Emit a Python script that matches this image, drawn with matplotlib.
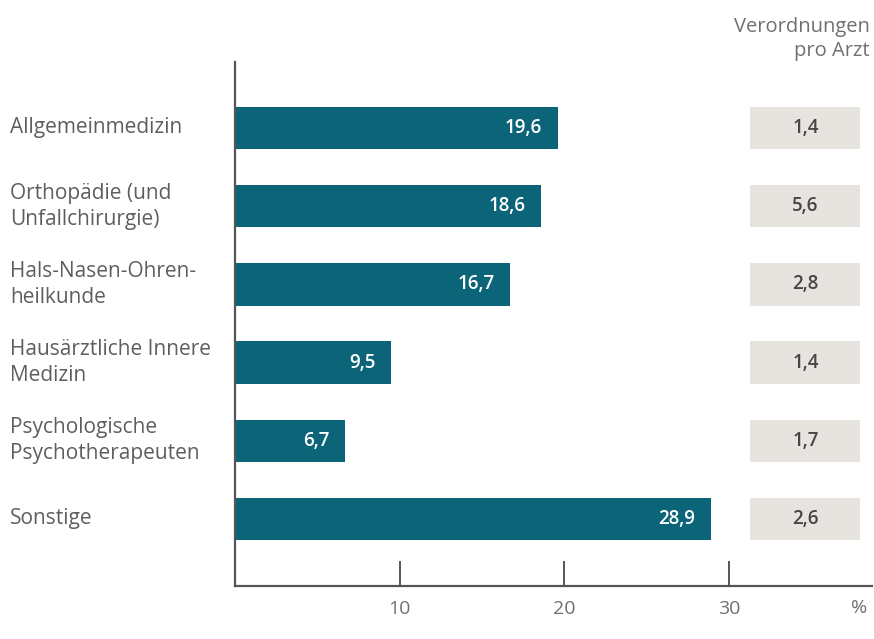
import matplotlib
matplotlib.use("Agg")
import matplotlib.pyplot as plt
from matplotlib.patches import Rectangle

categories = ["Allgemeinmedizin", "Orthopädie (und\nUnfallchirurgie)", "Hals-Nasen-Ohren-\nheilkunde",
              "Hausärztliche Innere\nMedizin", "Psychologische\nPsychotherapeuten", "Sonstige"]
shares = [19.6, 18.6, 16.7, 9.5, 6.7, 28.9]
per_doctor = [1.4, 5.6, 2.8, 1.4, 1.7, 2.6]
xticks = [10, 20, 30]
header = "Verordnungen\npro Arzt"

plt.rcParams['font.family'] = ['Open Sans', 'DejaVu Sans']

W, H = 874, 639
fig = plt.figure(figsize=(W/100, H/100), dpi=100)
left_px, right_px, top_px, bot_px = 235, 872, 62, 586
ax = fig.add_axes([left_px/W, 1-bot_px/H, (right_px-left_px)/W, (bot_px-top_px)/H])

bar_color = "#0c6478"
box_color = "#e7e3de"
text_gray = "#5e5e5e"
axis_color = "#555555"
light_gray = "#707070"

n = len(categories)
ypos = list(range(n))
ax.barh(ypos, shares, height=0.54, color=bar_color, zorder=2)
ax.set_xlim(0, 38.7)
ax.set_ylim(n - 1 + 0.857, -0.844)

fmt = lambda v: f"{v:.1f}".replace(".", ",")
for y, v in zip(ypos, shares):
    ax.text(v - 0.95, y, fmt(v), ha="right", va="center", color="white",
            fontsize=13.5, fontweight="semibold", zorder=3)

# right-hand boxes
bx0, bx1 = 31.3, 38.0
for y, v in zip(ypos, per_doctor):
    ax.add_patch(Rectangle((bx0, y - 0.27), bx1 - bx0, 0.54, facecolor=box_color,
                           edgecolor="none", clip_on=False, zorder=1))
    ax.text((bx0 + bx1) / 2, y, fmt(v), ha="center", va="center", color="#464646",
            fontsize=13.5, fontweight="semibold")

# category labels
for y, c in zip(ypos, categories):
    ax.text(10/W, ax.transData.transform((0, y))[1] / H, c, transform=fig.transFigure,
            ha="left", va="center", color=text_gray, fontsize=15, linespacing=1.3)

fig.text(870/W, 1-39/H, header, ha="right", va="center", color=light_gray,
         fontsize=14.5, linespacing=1.3)

for s in ["top", "right"]:
    ax.spines[s].set_visible(False)
for s in ["left", "bottom"]:
    ax.spines[s].set_color(axis_color)
    ax.spines[s].set_linewidth(1.6)
ax.set_yticks([])
ax.set_xticks(xticks)
ax.set_xticklabels([str(t) for t in xticks])
ax.tick_params(axis="x", direction="in", length=18, width=1.4, color=axis_color,
               labelcolor=light_gray, labelsize=14, pad=10)
ax.text(992/1000, -22/(bot_px-top_px), "%", transform=ax.transAxes, ha="right", va="center",
        color=light_gray, fontsize=14)

fig.savefig("out.png", dpi=100)
